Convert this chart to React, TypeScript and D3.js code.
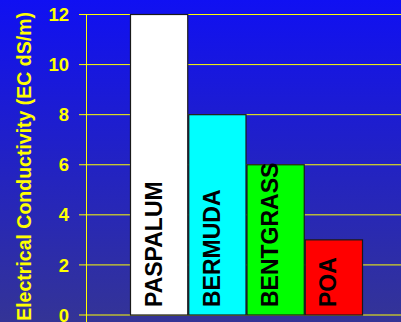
import React from "react";
import * as d3 from "d3";

const categories = ["PASPALUM", "BERMUDA", "BENTGRASS", "POA"];
const values = [12, 8, 6, 3];
const barColors = ["#ffffff", "#00ffff", "#00ff00", "#ff0000"];
const yTicks = [0, 2, 4, 6, 8, 10, 12];
const yTitle = "Electrical Conductivity (EC dS/m)";

const W = 401;
const H = 322;

export default function App() {
  const y = d3.scaleLinear().domain([0, 12]).range([315, 14.5]);
  const x = d3.scaleBand<string>().domain(categories).range([130, 363]).padding(0);
  const bw = x.bandwidth();
  const axisX = 86.5;
  const font = "'Liberation Sans', Arial, sans-serif";

  return (
    <svg
      width={W}
      height={H}
      style={{ position: "absolute", left: 0, top: 0, display: "block" }}
    >
      <defs>
        <linearGradient id="bg" x1="0" y1="0" x2="0" y2="1">
          <stop offset="0" stopColor="#1010f2" />
          <stop offset="1" stopColor="#343496" />
        </linearGradient>
      </defs>
      <rect x={0} y={0} width={W} height={H} fill="url(#bg)" />

      {yTicks.map((t) => (
        <line
          key={"g" + t}
          x1={79}
          x2={W + 20}
          y1={y(t)}
          y2={y(t)}
          stroke="#ffff00"
          strokeWidth={1}
        />
      ))}
      <line x1={axisX} x2={axisX} y1={y(12)} y2={H + 10} stroke="#ffff00" strokeWidth={1} />

      {yTicks.map((t) => (
        <text
          key={"t" + t}
          x={69}
          y={y(t)}
          dy="0.36em"
          textAnchor="end"
          fill="#ffff00"
          fontFamily={font}
          fontWeight="bold"
          fontSize={18.5}
        >
          {t}
        </text>
      ))}

      <text
        transform={`translate(30.5, 12) rotate(-90)`}
        textAnchor="end"
        fill="#ffff00"
        fontFamily={font}
        fontWeight="bold"
        fontSize={19.5}
      >
        {yTitle}
      </text>

      {categories.map((c, i) => (
        <rect
          key={"b" + c}
          x={(x(c) as number) + 0.5}
          y={y(values[i])}
          width={bw - 1}
          height={y(0) - y(values[i])}
          fill={barColors[i]}
          stroke="#1a1a1a"
          strokeWidth={1.2}
        />
      ))}

      {categories.map((c, i) => (
        <text
          key={"l" + c}
          transform={`translate(${(x(c) as number) + bw / 2 + 2.5}, ${y(0) - 8}) rotate(-90)`}
          textAnchor="start"
          fill="#000000"
          fontFamily={font}
          fontWeight="bold"
          fontSize={23}
        >
          {c}
        </text>
      ))}
    </svg>
  );
}
